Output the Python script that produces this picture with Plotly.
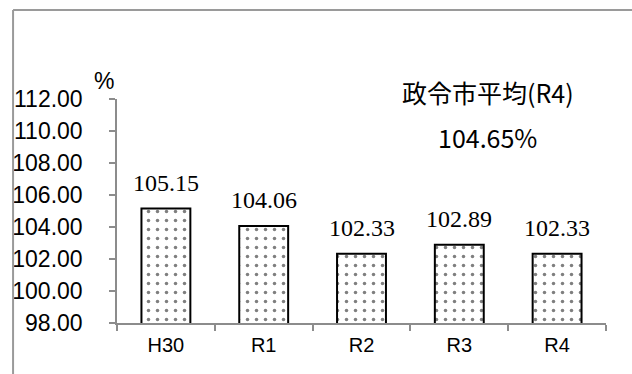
import plotly.graph_objects as go

# Fiscal years and their index values (%)
years = ["H30", "R1", "R2", "R3", "R4"]
values = [105.15, 104.06, 102.33, 102.89, 102.33]
value_labels = ["105.15", "104.06", "102.33", "102.89", "102.33"]
y_ticks = [98, 100, 102, 104, 106, 108, 110, 112]
y_tick_labels = ["98.00", "100.00", "102.00", "104.00", "106.00", "108.00", "110.00", "112.00"]
avg_title = "政令市平均(R4)"
avg_value = "104.65%"

W, H = 632, 374
L, R, T, B = 112, 26, 99, 51
plot_w = W - L - R
plot_h = H - T - B

fig = go.Figure()
fig.add_trace(go.Bar(
    x=years,
    y=values,
    width=0.5,
    marker=dict(
        color="white",
        line=dict(color="black", width=2),
        pattern=dict(shape=".", fgcolor="black", bgcolor="white", size=9, solidity=0.12),
    ),
    hoverinfo="skip",
))

# value labels above each bar
for yr, v, lab in zip(years, values, value_labels):
    fig.add_annotation(
        x=yr, y=v, xref="x", yref="y", text=lab, showarrow=False,
        yanchor="middle", yshift=26,
        font=dict(family="Liberation Serif", size=24, color="black"),
    )

# unit label and the designated-city average note
fig.add_annotation(
    x=(99 - L) / plot_w, y=(H - B - 81) / plot_h, xref="paper", yref="paper",
    text="%", showarrow=False, xanchor="center", yanchor="middle",
    font=dict(family="Liberation Sans", size=23, color="black"),
)
fig.add_annotation(
    x=(487 - L) / plot_w, y=(H - B - 92) / plot_h, xref="paper", yref="paper",
    text=avg_title, showarrow=False, xanchor="center", yanchor="middle",
    font=dict(family="Noto Sans CJK JP", size=25, color="black"),
)
fig.add_annotation(
    x=(486 - L) / plot_w, y=(H - B - 137) / plot_h, xref="paper", yref="paper",
    text=avg_value, showarrow=False, xanchor="center", yanchor="middle",
    font=dict(family="Noto Sans CJK JP", size=25, color="black"),
)

# outer chart frame (top and left edges)
fx0 = (7 - L) / plot_w
fy_top = (H - B - 10) / plot_h
fig.add_shape(type="line", xref="paper", yref="paper", x0=fx0, x1=1.2, y0=fy_top, y1=fy_top,
              line=dict(color="#9a9a9a", width=2))
fig.add_shape(type="line", xref="paper", yref="paper", x0=fx0, x1=fx0, y0=fy_top, y1=-0.3,
              line=dict(color="#9a9a9a", width=2))

fig.update_layout(
    width=W, height=H,
    margin=dict(l=L, r=R, t=T, b=B),
    paper_bgcolor="white", plot_bgcolor="white",
    showlegend=False,
    bargap=0.5,
)
fig.update_xaxes(
    showline=True, linecolor="#8c8c8c", linewidth=1.5,
    ticks="outside", tickson="boundaries", ticklen=6, tickcolor="#8c8c8c", tickwidth=1.5,
    tickfont=dict(family="Liberation Sans", size=20, color="black"),
    ticklabelstandoff=3,
    showgrid=False, zeroline=False,
)
fig.update_yaxes(
    range=[98, 112],
    tickvals=y_ticks, ticktext=y_tick_labels,
    showline=True, linecolor="#8c8c8c", linewidth=1.5,
    ticks="outside", ticklen=6, tickcolor="#8c8c8c", tickwidth=1.5,
    tickfont=dict(family="Liberation Sans", size=23, color="black"),
    ticklabelstandoff=22,
    showgrid=False, zeroline=False,
)

fig.write_html("out.html")
